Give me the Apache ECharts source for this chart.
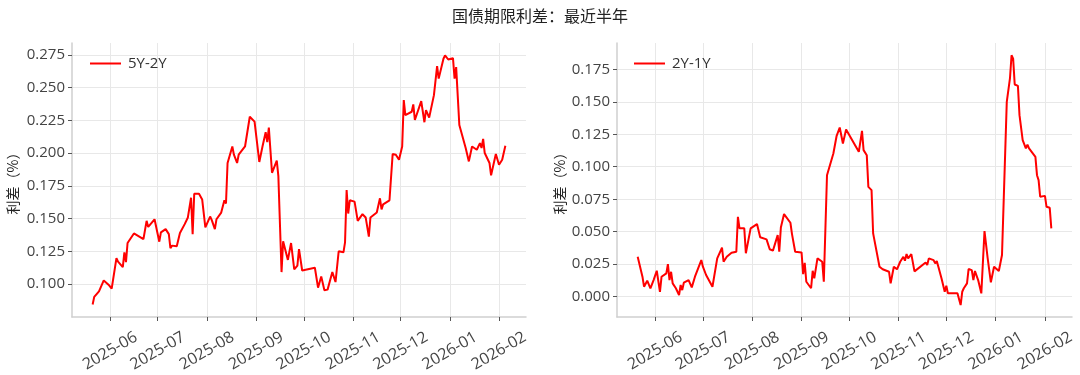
<!DOCTYPE html>
<html>
<head>
<meta charset="utf-8">
<script src="https://cdn.jsdelivr.net/npm/echarts@6/dist/echarts.min.js"></script>
<style>
html,body{margin:0;padding:0;background:#fff;}
#chart{width:1080px;height:375px;}
</style>
</head>
<body>
<div id="chart"></div>
<script>
const chartTitle = '国债期限利差：最近半年';
const yAxisName = '利差（%）';
const seriesNameA = '5Y-2Y';
const seriesNameB = '2Y-1Y';
const monthTicks = ['2025-06','2025-07','2025-08','2025-09','2025-10','2025-11','2025-12','2026-01','2026-02'];
const yTicksA = [0.100,0.125,0.150,0.175,0.200,0.225,0.250,0.275];
const yTicksB = [0.000,0.025,0.050,0.075,0.100,0.125,0.150,0.175];

const datesA = ['2025-05-21','2025-05-22','2025-05-25','2025-05-28','2025-05-31','2025-06-02','2025-06-05','2025-06-06','2025-06-09','2025-06-10','2025-06-11','2025-06-12','2025-06-16','2025-06-22','2025-06-24','2025-06-25','2025-06-29','2025-07-02','2025-07-03','2025-07-06','2025-07-08','2025-07-09','2025-07-10','2025-07-13','2025-07-15','2025-07-16','2025-07-18','2025-07-20','2025-07-22','2025-07-23','2025-07-24','2025-07-27','2025-07-29','2025-07-31','2025-08-03','2025-08-04','2025-08-06','2025-08-07','2025-08-10','2025-08-12','2025-08-13','2025-08-14','2025-08-17','2025-08-18','2025-08-19','2025-08-20','2025-08-21','2025-08-25','2025-08-28','2025-08-29','2025-08-31','2025-09-03','2025-09-05','2025-09-07','2025-09-08','2025-09-09','2025-09-11','2025-09-14','2025-09-15','2025-09-17','2025-09-18','2025-09-21','2025-09-23','2025-09-25','2025-09-27','2025-09-28','2025-09-30','2025-10-08','2025-10-10','2025-10-12','2025-10-14','2025-10-15','2025-10-16','2025-10-19','2025-10-21','2025-10-23','2025-10-26','2025-10-27','2025-10-28','2025-10-29','2025-10-30','2025-11-02','2025-11-04','2025-11-07','2025-11-09','2025-11-11','2025-11-12','2025-11-16','2025-11-18','2025-11-19','2025-11-20','2025-11-24','2025-11-26','2025-11-28','2025-11-30','2025-12-02','2025-12-03','2025-12-04','2025-12-08','2025-12-09','2025-12-10','2025-12-14','2025-12-16','2025-12-17','2025-12-19','2025-12-22','2025-12-24','2025-12-25','2025-12-28','2025-12-29','2025-12-31','2026-01-03','2026-01-04','2026-01-05','2026-01-07','2026-01-11','2026-01-12','2026-01-13','2026-01-15','2026-01-18','2026-01-20','2026-01-21','2026-01-22','2026-01-23','2026-01-26','2026-01-27','2026-01-30','2026-02-01','2026-02-03','2026-02-05'];
const valuesA = [0.0843,0.0902,0.0944,0.1027,0.0995,0.0964,0.1197,0.1171,0.1129,0.1242,0.1167,0.1313,0.1386,0.1343,0.1482,0.1436,0.1494,0.1323,0.1394,0.1419,0.1381,0.1273,0.1293,0.1288,0.1389,0.1394,0.1457,0.1508,0.1659,0.1381,0.1689,0.1689,0.1646,0.1432,0.1515,0.1489,0.1419,0.1494,0.1545,0.1640,0.1614,0.1924,0.2050,0.1987,0.2000,0.1924,0.1987,0.2050,0.2277,0.2283,0.2240,0.1932,0.2050,0.2159,0.2083,0.2194,0.1849,0.1942,0.1823,0.1091,0.1326,0.1184,0.1313,0.1111,0.1141,0.1267,0.1103,0.1124,0.0972,0.1058,0.0952,0.0964,0.0957,0.1091,0.1015,0.1250,0.1242,0.1318,0.1717,0.1538,0.1639,0.1629,0.1482,0.1533,0.1508,0.1361,0.1508,0.1546,0.1654,0.1570,0.1608,0.1639,0.1992,0.1987,0.1949,0.2050,0.2404,0.2290,0.2315,0.2371,0.2252,0.2396,0.2235,0.2328,0.2270,0.2442,0.2664,0.2568,0.2720,0.2745,0.2714,0.2724,0.2568,0.2656,0.2214,0.2038,0.2030,0.1936,0.2050,0.2025,0.2076,0.2038,0.2108,0.2000,0.1924,0.1830,0.1992,0.1911,0.1949,0.2055];

const datesB = ['2025-05-21','2025-05-24','2025-05-25','2025-05-27','2025-05-29','2025-05-31','2025-06-02','2025-06-04','2025-06-05','2025-06-08','2025-06-09','2025-06-10','2025-06-11','2025-06-12','2025-06-14','2025-06-16','2025-06-17','2025-06-18','2025-06-19','2025-06-22','2025-06-24','2025-06-26','2025-06-28','2025-06-30','2025-07-01','2025-07-03','2025-07-07','2025-07-10','2025-07-13','2025-07-14','2025-07-16','2025-07-19','2025-07-22','2025-07-23','2025-07-24','2025-07-27','2025-07-28','2025-07-29','2025-07-31','2025-08-04','2025-08-06','2025-08-10','2025-08-12','2025-08-14','2025-08-17','2025-08-18','2025-08-19','2025-08-20','2025-08-21','2025-08-25','2025-08-26','2025-08-28','2025-09-01','2025-09-02','2025-09-03','2025-09-04','2025-09-07','2025-09-08','2025-09-09','2025-09-11','2025-09-14','2025-09-15','2025-09-17','2025-09-21','2025-09-23','2025-09-25','2025-09-27','2025-09-29','2025-10-07','2025-10-09','2025-10-10','2025-10-12','2025-10-13','2025-10-15','2025-10-16','2025-10-20','2025-10-22','2025-10-26','2025-10-27','2025-10-29','2025-10-31','2025-11-02','2025-11-04','2025-11-05','2025-11-06','2025-11-07','2025-11-09','2025-11-11','2025-11-18','2025-11-19','2025-11-20','2025-11-23','2025-11-24','2025-11-25','2025-11-26','2025-11-28','2025-11-30','2025-12-01','2025-12-02','2025-12-08','2025-12-10','2025-12-11','2025-12-12','2025-12-14','2025-12-15','2025-12-17','2025-12-18','2025-12-19','2025-12-21','2025-12-23','2025-12-25','2025-12-27','2025-12-29','2025-12-31','2026-01-03','2026-01-05','2026-01-08','2026-01-10','2026-01-11','2026-01-12','2026-01-13','2026-01-15','2026-01-16','2026-01-18','2026-01-19','2026-01-20','2026-01-21','2026-01-22','2026-01-26','2026-01-27','2026-01-28','2026-01-29','2026-02-01','2026-02-02','2026-02-04','2026-02-05'];
const valuesB = [0.0307,0.0154,0.0077,0.0123,0.0065,0.0128,0.0200,0.0038,0.0154,0.0180,0.0251,0.0128,0.0192,0.0103,0.0065,0.0013,0.0090,0.0051,0.0108,0.0128,0.0072,0.0154,0.0218,0.0282,0.0231,0.0167,0.0077,0.0295,0.0377,0.0269,0.0307,0.0338,0.0346,0.0615,0.0526,0.0526,0.0334,0.0334,0.0526,0.0559,0.0457,0.0441,0.0365,0.0354,0.0474,0.0346,0.0533,0.0533,0.0636,0.0569,0.0482,0.0346,0.0341,0.0174,0.0261,0.0115,0.0065,0.0200,0.0141,0.0295,0.0269,0.0115,0.0935,0.1102,0.1235,0.1302,0.1179,0.1287,0.1115,0.1276,0.1128,0.1089,0.0845,0.0820,0.0487,0.0231,0.0211,0.0192,0.0103,0.0231,0.0211,0.0269,0.0307,0.0277,0.0328,0.0295,0.0328,0.0195,0.0264,0.0244,0.0295,0.0282,0.0257,0.0274,0.0231,0.0141,0.0038,0.0085,0.0026,0.0026,-0.0064,0.0038,0.0065,0.0103,0.0213,0.0205,0.0128,0.0198,0.0128,0.0026,0.0505,0.0295,0.0111,0.0231,0.0198,0.0321,0.1499,0.1679,0.1858,0.1832,0.1633,0.1622,0.1397,0.1204,0.1217,0.1141,0.1171,0.1141,0.1076,0.0935,0.0897,0.0769,0.0776,0.0692,0.0684,0.0526];

function toTs(s){ const p = s.split('-').map(Number); return new Date(p[0], p[1]-1, p[2] || 1).getTime(); }
const monthTs = monthTicks.map(toTs);
function pairs(ds, vs){ return ds.map((d,i)=>[toTs(d), vs[i]]); }
function fmtMonth(v){ const d = new Date(v); return d.getFullYear() + '-' + String(d.getMonth()+1).padStart(2,'0'); }

const FONT = "'Open Sans', 'Noto Sans CJK SC', sans-serif";
const TEXT = '#444';

function xAxisCfg(gi){
  return {
    type:'value', gridIndex:gi, min: toTs('2025-05-08'), max: toTs('2026-02-18'), scale:true,
    axisLine:{show:true, onZero:false, lineStyle:{color:'#cfcfcf', width:1.5}},
    axisTick:{show:true, length:4, lineStyle:{color:'#555', width:1}, customValues: monthTs},
    axisLabel:{customValues: monthTs, formatter: fmtMonth, rotate:30, align:'center', verticalAlign:'middle',
      margin:34, fontSize:16, color:TEXT, fontFamily:FONT, hideOverlap:false},
    splitLine:{show:true, lineStyle:{color:'#e8e8e8', width:1}}
  };
}
function yAxisCfg(gi, mn, mx, ticks, gap){
  return {
    type:'value', gridIndex:gi, min:mn, max:mx,
    name: yAxisName, nameLocation:'middle', nameGap:gap, nameRotate:90,
    nameTextStyle:{fontSize:14, color:'#222', fontFamily:"'Noto Sans CJK SC', sans-serif"},
    axisLine:{show:true, lineStyle:{color:'#cfcfcf', width:1.5}},
    axisTick:{show:true, length:4, lineStyle:{color:'#555', width:1}, customValues: ticks},
    axisLabel:{customValues: ticks, formatter: v => v.toFixed(3), fontSize:15, color:TEXT, fontFamily:FONT, margin:7},
    splitLine:{show:true, lineStyle:{color:'#e8e8e8', width:1}}
  };
}

const chart = echarts.init(document.getElementById('chart'), null, {renderer:'canvas'});
chart.setOption({
  animation:false,
  backgroundColor:'#fff',
  title:{text: chartTitle, left:'center', top:3, textStyle:{fontSize:16, fontWeight:'normal', color:'#222', fontFamily:"'Noto Sans CJK SC', sans-serif"}},
  legend:[
    {data:[seriesNameA], left:85, top:51, icon:'rect', itemWidth:31, itemHeight:2, itemGap:10,
      textStyle:{fontSize:15, color:'#333', fontFamily:FONT, padding:[0,0,0,2]}},
    {data:[seriesNameB], left:629, top:51, icon:'rect', itemWidth:31, itemHeight:2, itemGap:10,
      textStyle:{fontSize:15, color:'#333', fontFamily:FONT, padding:[0,0,0,2]}}
  ],
  grid:[
    {left:72, top:43, width:454, height:274, containLabel:false},
    {left:617, top:43, width:455, height:274, containLabel:false}
  ],
  xAxis:[xAxisCfg(0), xAxisCfg(1)],
  yAxis:[yAxisCfg(0, 0.0748, 0.2840, yTicksA, 52), yAxisCfg(1, -0.0156, 0.1952, yTicksB, 50)],
  series:[
    {name:seriesNameA, type:'line', xAxisIndex:0, yAxisIndex:0, data:pairs(datesA, valuesA), showSymbol:false, symbol:'none',
      lineStyle:{color:'#ff0000', width:2}, itemStyle:{color:'#ff0000'}},
    {name:seriesNameB, type:'line', xAxisIndex:1, yAxisIndex:1, data:pairs(datesB, valuesB), showSymbol:false, symbol:'none',
      lineStyle:{color:'#ff0000', width:2}, itemStyle:{color:'#ff0000'}}
  ]
});
</script>
</body>
</html>
